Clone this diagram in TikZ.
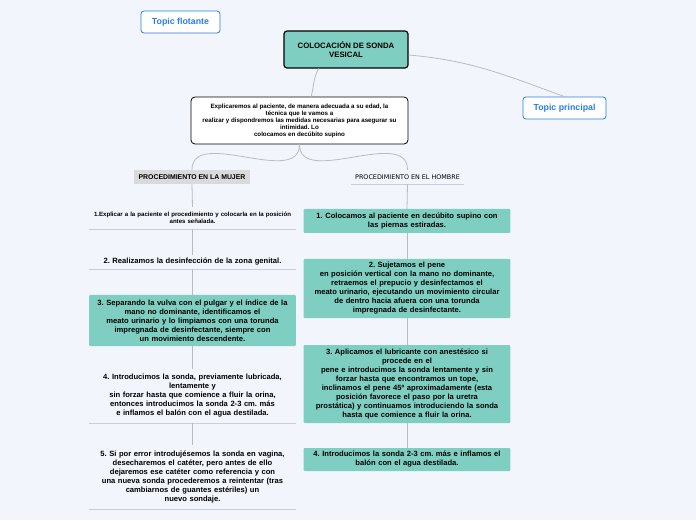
\documentclass[tikz,border=0pt]{standalone}
\usepackage{fontspec}
\setmainfont{Liberation Sans}
\newfontfamily\hdrfont{DejaVu Sans}
\usepackage{xcolor}
\usepackage{tikz}
\frenchspacing

\definecolor{bgpaper}{HTML}{F3F5FD}
\definecolor{tealfill}{HTML}{7ECFC1}
\definecolor{topicblue}{HTML}{2A7DE1}
\definecolor{linkgray}{HTML}{B9BBC2}
\definecolor{rulegray}{HTML}{CBCED8}
\definecolor{hdrgray}{HTML}{D9DADC}

\begin{document}
\begin{tikzpicture}[x=1pt, y=1pt,
    topic/.style={draw=topicblue, line width=.8pt, rounded corners=3pt, fill=white,
        text=topicblue, font=\fontsize{8.8}{10}\selectfont\bfseries,
        minimum height=22pt, inner xsep=0pt},
    mainbox/.style={draw=black, line width=1.2pt, rounded corners=3pt, fill=tealfill,
        font=\fontsize{7.8}{8.5}\selectfont\bfseries, align=center,
        minimum width=124pt, minimum height=37pt},
    introbox/.style={draw=black, line width=.8pt, rounded corners=4pt, fill=white,
        font=\fontsize{6.2}{7}\selectfont\bfseries, align=center,
        minimum width=217pt, minimum height=47pt},
    tealbox/.style={fill=tealfill, rounded corners=1pt, align=center,
        font=\fontsize{7.6}{9}\selectfont\bfseries, text width=200pt},
    plainitem/.style={align=center, font=\fontsize{7.6}{9}\selectfont\bfseries, text width=200pt},
    link/.style={draw=linkgray, line width=.8pt},
    uline/.style={draw=rulegray, line width=.9pt}]

\useasboundingbox (0,0) rectangle (696,520);
\fill[bgpaper] (0,0) rectangle (696,520);

% top row
\node[topic, minimum width=79pt] (flot) at (180.5,498) {Topic flotante};
\node[mainbox] (sonda) at (346,470.5) {COLOCACIÓN DE SONDA\\VESICAL};
\node[topic, minimum width=83pt] (princ) at (564.5,412) {Topic principal};
\node[introbox] (intro) at (299.5,399.5) {Explicaremos al paciente, de manera adecuada a su edad, la\\
    técnica que le vamos a\\
    realizar y dispondremos las medidas necesarias para asegurar su\\
    intimidad. Lo\\
    colocamos en decúbito supino};

% headers
\node[fill=hdrgray, font=\fontsize{6.9}{8}\selectfont\bfseries, minimum width=116pt,
    minimum height=14pt, inner sep=0pt] (mujer) at (192,343) {PROCEDIMIENTO EN LA MUJER};
\node[font=\fontsize{6.4}{8}\selectfont\hdrfont, minimum width=113pt,
    minimum height=14pt, inner sep=0pt] (hombre) at (407.5,343) {PROCEDIMIENTO EN EL HOMBRE};
\draw[uline] (hombre.south west) -- (hombre.south east);

% mujer
\node[plainitem, font=\fontsize{6.1}{7.5}\selectfont\bfseries, minimum height=22pt] (m1) at (192.5,302)
    {1.Explicar a la paciente el procedimiento y colocarla en la posición\\antes señalada.};
\node[plainitem, minimum height=14pt] (m2) at (192.5,258)
    {2. Realizamos la desinfección de la zona genital.};
\node[tealbox, minimum height=51pt] (m3) at (192.5,199.5)
    {3. Separando la vulva con el pulgar y el índice de la\\
    mano no dominante, identificamos el\\
    meato urinario y lo limpiamos con una torunda\\
    impregnada de desinfectante, siempre con\\
    un movimiento descendente.};
\node[plainitem, minimum height=54pt] (m4) at (192.5,124)
    {4. Introducimos la sonda, previamente lubricada,\\
    lentamente y\\
    sin forzar hasta que comience a fluir la orina,\\
    entonces introducimos la sonda 2-3 cm. más\\
    e inflamos el balón con el agua destilada.};
\node[plainitem, minimum height=64pt] (m5) at (192.5,43)
    {5. Si por error introdujésemos la sonda en vagina,\\
    desecharemos el catéter, pero antes de ello\\
    dejaremos ese catéter como referencia y con\\
    una nueva sonda procederemos a reintentar (tras\\
    cambiarnos de guantes estériles) un\\
    nuevo sondaje.};
\foreach \it in {m1,m2,m4,m5}
    \draw[uline] (\it.south west) -- (\it.south east);

% hombre
\node[tealbox, minimum height=24pt] (h1) at (407,299)
    {1. Colocamos al paciente en decúbito supino con\\las piernas estiradas.};
\node[tealbox, minimum height=59pt] (h2) at (407,231.5)
    {2. Sujetamos el pene\\
    en posición vertical con la mano no dominante,\\
    retraemos el prepucio y desinfectamos el\\
    meato urinario, ejecutando un movimiento circular\\
    de dentro hacia afuera con una torunda\\
    impregnada de desinfectante.};
\node[tealbox, minimum height=78pt] (h3) at (407,136)
    {3. Aplicamos el lubricante con anestésico si\\
    procede en el\\
    pene e introducimos la sonda lentamente y sin\\
    forzar hasta que encontramos un tope,\\
    inclinamos el pene 45º aproximadamente (esta\\
    posición favorece el paso por la uretra\\
    prostática) y continuamos introduciendo la sonda\\
    hasta que comience a fluir la orina.};
\node[tealbox, minimum height=23pt] (h4) at (407,60.5)
    {4. Introducimos la sonda 2-3 cm. más e inflamos el\\balón con el agua destilada.};

% connectors
\draw[link] (sonda.215) to[out=-120,in=75] (intro.64);
\draw[link] (sonda.-5) to[out=-5,in=160] (princ.north);
\draw[link] (intro.south) to[out=-90,in=90] (mujer.north);
\draw[link] (intro.south) to[out=-90,in=90] (hombre.north);
\draw[link] (mujer.south) -- (m1.north);
\draw[link] (m1.south) -- (m2.north);
\draw[link] (m2.south) -- (m3.north);
\draw[link] (m3.south) -- (m4.north);
\draw[link] (m4.south) -- (m5.north);
\draw[link] (hombre.south) -- (h1.north);
\draw[link] (h1.south) -- (h2.north);
\draw[link] (h2.south) -- (h3.north);
\draw[link] (h3.south) -- (h4.north);
\end{tikzpicture}
\end{document}
